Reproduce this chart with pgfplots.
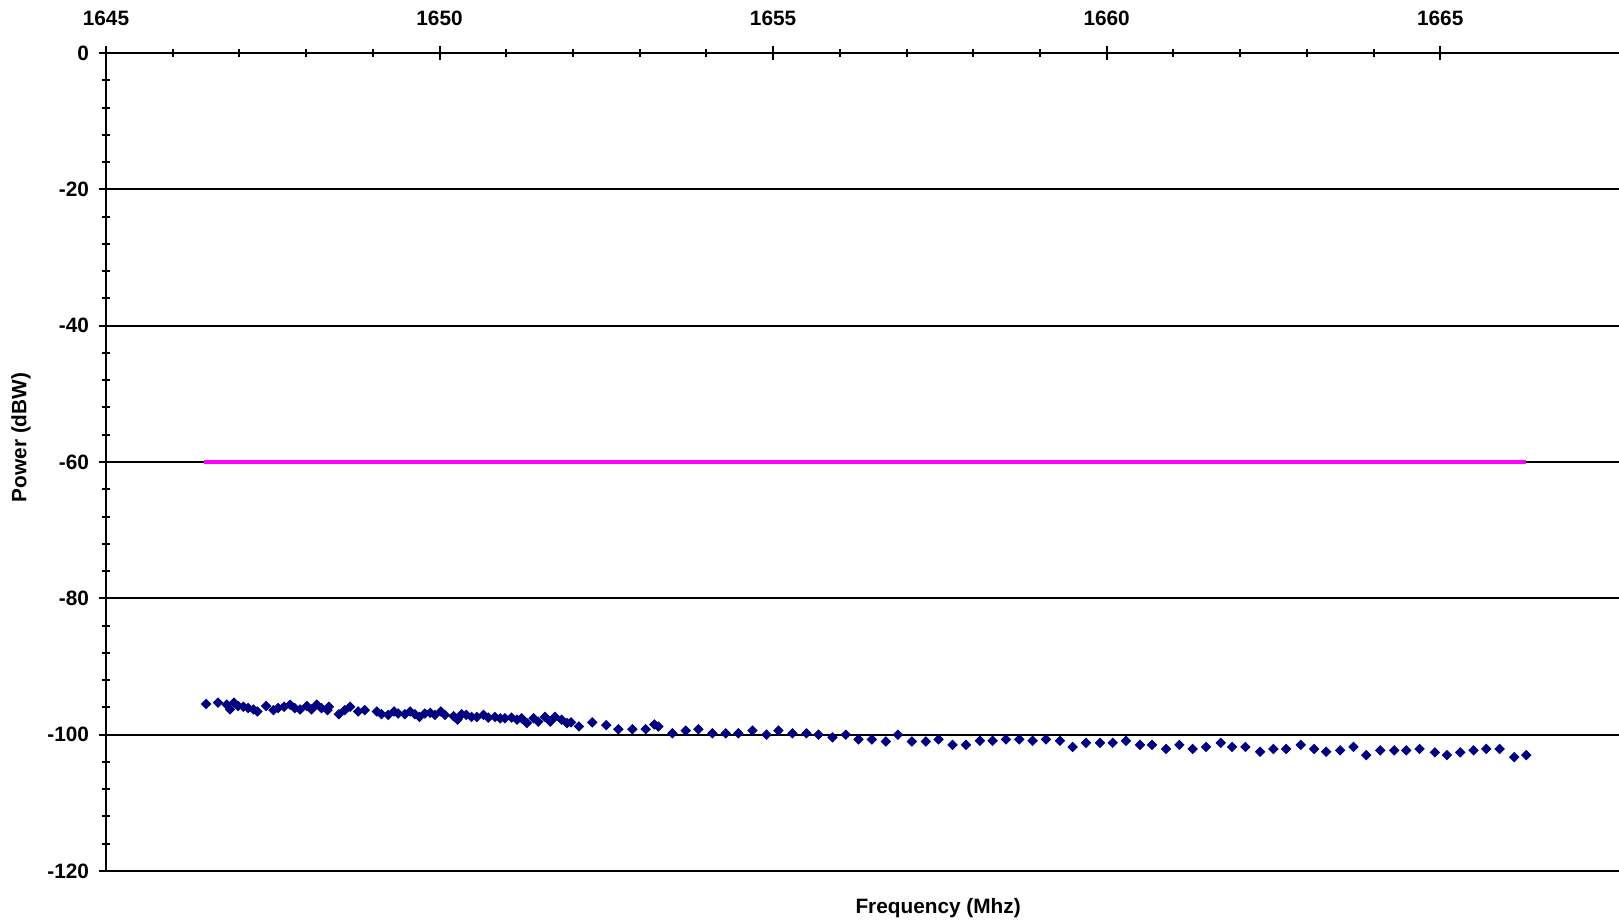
\documentclass[border=0pt]{standalone}
\usepackage{pgfplots}
\pgfplotsset{compat=1.18}
\usepackage{fontspec}
\setmainfont{Liberation Sans}
\definecolor{navyblue}{RGB}{0,0,128}
\definecolor{limmag}{RGB}{255,0,255}
\begin{document}
\begin{tikzpicture}
\path[use as bounding box] (-53pt,-26.5pt) rectangle (756.5pt,435.5pt);
\begin{axis}[
  at={(0pt,0pt)}, anchor=south west,
  scale only axis, width=756.5pt, height=409pt,
  xmin=1645, xmax=1667.68, ymin=-120, ymax=0,
  axis x line*=top, axis y line*=left,
  axis line style={line width=1.3pt, -},
  xtick={1645,1650,1655,1660,1665},
  minor x tick num=4,
  ytick={0,-20,-40,-60,-80,-100,-120},
  minor y tick num=4,
  tick align=center,
  major tick length=7pt, minor tick length=4pt,
  tick style={line width=1pt, black},
  ymajorgrids, grid style={line width=0.9pt, black},
  clip=false,
  font=\fontsize{10.4}{12}\selectfont\bfseries,
  /pgf/number format/assume math mode=true,
  /pgf/number format/1000 sep={},
  xticklabel style={yshift=6.5pt},
  yticklabel style={xshift=-1.5pt},
  every axis x label/.style={at={(axis description cs:0.55,0)}, anchor=center, yshift=-18.5pt},
  every axis y label/.style={at={(axis description cs:-0.0562,0.53)}, anchor=center, rotate=90},
  xlabel={Frequency (Mhz)},
  ylabel={Power (dBW)},
]
\addplot[limmag, line width=1.6pt] coordinates {(1646.47,-60) (1666.29,-60)};
\addplot[only marks, mark=square*, mark size=1.65pt, color=navyblue,
  mark options={rotate=45, fill=navyblue, draw=navyblue}] coordinates {
(1646.50,-95.5) (1646.68,-95.3) (1646.81,-95.6) (1646.86,-96.3) (1646.92,-95.3)
(1646.98,-95.8) (1647.06,-95.9) (1647.13,-96.1) (1647.21,-96.3) (1647.27,-96.6)
(1647.40,-95.8) (1647.51,-96.4) (1647.58,-96.1) (1647.67,-95.9) (1647.76,-95.6)
(1647.83,-96.1) (1647.91,-96.3) (1648.01,-95.8) (1648.08,-96.3) (1648.16,-95.6)
(1648.23,-96.1) (1648.32,-96.4) (1648.34,-95.9) (1648.49,-97.0) (1648.58,-96.4)
(1648.66,-95.9) (1648.78,-96.6) (1648.88,-96.4) (1649.06,-96.6) (1649.13,-97.0)
(1649.23,-97.1) (1649.32,-96.6) (1649.38,-96.9) (1649.48,-97.0) (1649.56,-96.6)
(1649.63,-97.0) (1649.70,-97.4) (1649.78,-96.9) (1649.86,-96.8) (1649.93,-97.1)
(1650.02,-96.6) (1650.08,-97.1) (1650.21,-97.3) (1650.27,-97.8) (1650.33,-97.0)
(1650.40,-97.1) (1650.48,-97.4) (1650.56,-97.4) (1650.66,-97.1) (1650.73,-97.5)
(1650.83,-97.4) (1650.91,-97.6) (1650.98,-97.6) (1651.08,-97.5) (1651.16,-97.8)
(1651.23,-97.6) (1651.31,-98.3) (1651.41,-97.6) (1651.48,-98.1) (1651.58,-97.4)
(1651.66,-98.1) (1651.73,-97.4) (1651.83,-97.8) (1651.91,-98.3) (1651.97,-98.2)
(1652.09,-98.8) (1652.29,-98.2) (1652.50,-98.6) (1652.68,-99.2) (1652.89,-99.2)
(1653.09,-99.2) (1653.22,-98.5) (1653.28,-98.8) (1653.49,-99.8) (1653.69,-99.4)
(1653.88,-99.2) (1654.09,-99.8) (1654.29,-99.8) (1654.48,-99.8) (1654.69,-99.4)
(1654.90,-100.0) (1655.08,-99.4) (1655.29,-99.8) (1655.50,-99.8) (1655.68,-100.0)
(1655.89,-100.4) (1656.09,-100.0) (1656.28,-100.7) (1656.48,-100.7) (1656.69,-101.0)
(1656.87,-100.0) (1657.08,-101.0) (1657.29,-101.0) (1657.48,-100.7) (1657.69,-101.5)
(1657.89,-101.5) (1658.10,-100.9) (1658.29,-100.9) (1658.49,-100.7) (1658.69,-100.7)
(1658.89,-100.9) (1659.09,-100.7) (1659.30,-100.9) (1659.49,-101.8) (1659.69,-101.2)
(1659.90,-101.2) (1660.09,-101.2) (1660.29,-100.9) (1660.50,-101.5) (1660.68,-101.5)
(1660.89,-102.1) (1661.09,-101.5) (1661.29,-102.1) (1661.49,-101.8) (1661.71,-101.2)
(1661.88,-101.8) (1662.08,-101.8) (1662.30,-102.5) (1662.50,-102.1) (1662.69,-102.1)
(1662.91,-101.5) (1663.11,-102.1) (1663.29,-102.5) (1663.50,-102.3) (1663.70,-101.8)
(1663.89,-103.0) (1664.10,-102.3) (1664.31,-102.3) (1664.49,-102.3) (1664.69,-102.1)
(1664.92,-102.6) (1665.10,-103.0) (1665.30,-102.6) (1665.50,-102.3) (1665.69,-102.1)
(1665.89,-102.1) (1666.11,-103.3) (1666.29,-103.0)
};
\end{axis}
\end{tikzpicture}
\end{document}
